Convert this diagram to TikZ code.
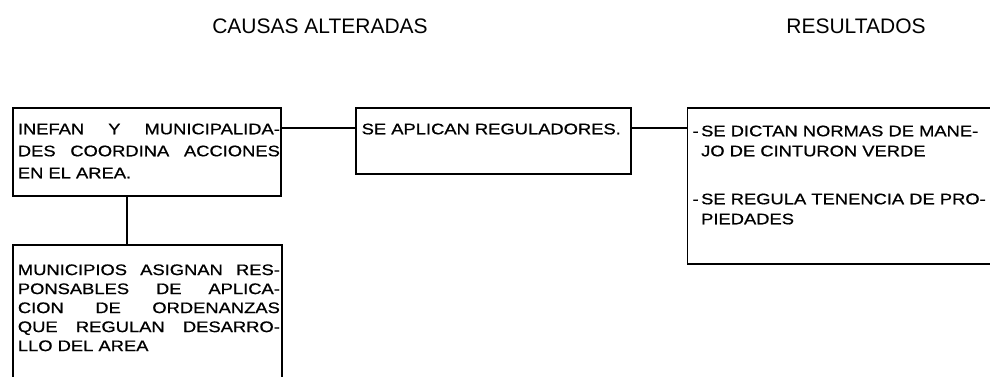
\documentclass[tikz,border=0pt]{standalone}
\usepackage{fontspec}
\setmainfont{Liberation Sans}
\newfontfamily\cajafont[FakeStretch=1.2, FakeBold=0.8]{Liberation Sans}
\usetikzlibrary{positioning}

\tikzset{
  caja/.style={draw, rectangle, inner sep=0pt, anchor=north west},
  texto/.style={inner sep=0pt, anchor=north west, align=justify, text width=262pt},
  titulo/.style={font=\fontsize{21}{24}\selectfont},
}

\begin{document}
\begin{tikzpicture}[x=1pt, y=-1pt, line width=1.8pt]
	\useasboundingbox (0,0) rectangle (990,377);
	\clip (0,0) rectangle (990,377);

	\node[titulo] (causas) at (320,26) {CAUSAS ALTERADAS};
	\node[titulo] (result) at (856,26) {RESULTADOS};

	\node[caja, minimum width=268pt, minimum height=88pt] (inefan) at (12,107) {};
	\node[caja, minimum width=275pt, minimum height=66pt, right=73pt of inefan.north east, anchor=north west] (aplican) {};
	\node[caja, minimum width=320pt, minimum height=156pt, right=55pt of aplican.north east, anchor=north west] (resultados) {};
	\node[caja, minimum width=269pt, minimum height=150pt, below=47pt of inefan.south west, anchor=north west] (municipios) {};

	\node[texto, font=\cajafont\fontsize{15.3}{22}\selectfont] (t-inefan) at ([xshift=5pt, yshift=-15.7pt]inefan.north west)
		{INEFAN Y MUNICIPALIDA-\linebreak DES COORDINA ACCIONES\linebreak EN EL AREA.};
	\node[texto, align=left, font=\cajafont\fontsize{15.3}{22}\selectfont] (t-aplican) at ([xshift=6pt, yshift=-15.7pt]aplican.north west)
		{SE APLICAN REGULADORES.};
	\node[texto, text width=300pt, align=left, font=\cajafont\fontsize{15.3}{20}\selectfont] (t-resultados) at ([xshift=5pt, yshift=-17.7pt]resultados.north west)
		{-\,SE DICTAN NORMAS DE MANE-\\\phantom{-\,}JO DE CINTURON VERDE\\[28pt]-\,SE REGULA TENENCIA DE PRO-\\\phantom{-\,}PIEDADES};
	\node[texto, font=\cajafont\fontsize{15.3}{19}\selectfont] (t-municipios) at ([xshift=5pt, yshift=-19.7pt]municipios.north west)
		{MUNICIPIOS ASIGNAN RES-\linebreak PONSABLES DE APLICA-\linebreak CION DE ORDENANZAS\linebreak QUE REGULAN DESARRO-\linebreak LLO DEL AREA};

	\path
	([yshift=-21pt]inefan.north east) edge[-] ([yshift=-21pt]aplican.north west)
	([yshift=-21pt]aplican.north east) edge[-] ([yshift=-21pt]resultados.north west)
	([xshift=115pt]inefan.south west) edge[-] ([xshift=115pt]municipios.north west);
\end{tikzpicture}
\end{document}
